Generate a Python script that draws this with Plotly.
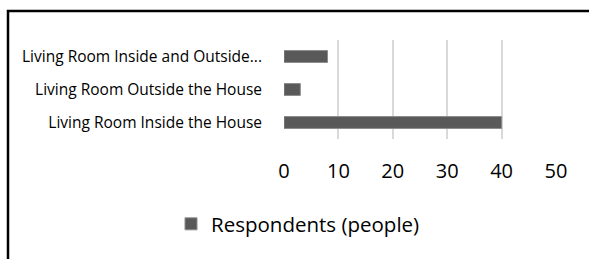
import plotly.graph_objects as go

categories = ["Living Room Inside the House",
              "Living Room Outside the House",
              "Living Room Inside and Outside..."]
values = [40, 3, 8]
series_name = "Respondents (people)"
x_ticks = [0, 10, 20, 30, 40, 50]

W, H = 589, 259
L, R, T, B = 284, 33, 40, 120
pw, ph = W - L - R, H - T - B

def px_x(x):
    return (x - L) / pw

def px_y(y):
    return (H - B - y) / ph

fig = go.Figure()
fig.add_trace(go.Bar(
    y=categories, x=values, orientation="h", name=series_name,
    marker=dict(color="#595959", line=dict(color="#8c8c8c", width=1)),
    showlegend=True,
))

fig.update_layout(
    width=W, height=H,
    margin=dict(l=L, r=R, t=T, b=B, autoexpand=False),
    paper_bgcolor="white", plot_bgcolor="white",
    font=dict(family="Open Sans", color="#000000"),
    bargap=0.64,
    showlegend=True,
    legend=dict(orientation="h", x=px_x(298), xanchor="center",
                y=px_y(224), yanchor="middle",
                font=dict(size=20.5, color="#000000"),
                itemwidth=30, bgcolor="rgba(0,0,0,0)"),
    xaxis=dict(range=[0, 50], tickvals=x_ticks, showgrid=True,
               gridcolor="#d9d9d9", gridwidth=1.5, zeroline=False,
               showline=False, tickfont=dict(size=20),
               ticklabelstandoff=18, fixedrange=True),
    yaxis=dict(showgrid=False, showline=False, zeroline=False,
               tickfont=dict(size=15.5), ticklabelstandoff=21,
               fixedrange=True),
    shapes=[dict(type="rect", xref="paper", yref="paper",
                 x0=px_x(8), x1=px_x(620), y0=px_y(300), y1=px_y(11),
                 line=dict(color="black", width=2.5), layer="above")],
)

fig.write_html("out.html",
               config={"displayModeBar": False},
               post_script="document.body.style.margin='0';document.body.style.overflow='hidden';")
